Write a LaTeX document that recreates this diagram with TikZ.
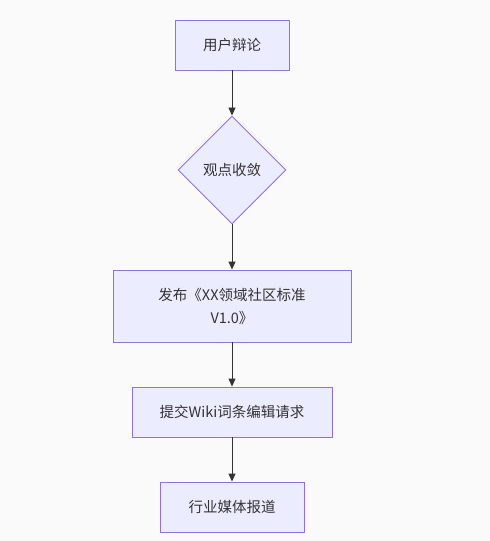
\documentclass[tikz,border=0pt]{standalone}
\usepackage{fontspec}
\setmainfont{Noto Sans CJK SC}
\usetikzlibrary{shapes.geometric,arrows.meta}
\definecolor{bgc}{HTML}{FAFAFA}
\definecolor{nodefill}{HTML}{ECECFF}
\definecolor{nodeline}{HTML}{9370DB}
\definecolor{linec}{HTML}{333333}
\definecolor{textc}{HTML}{333333}
\tikzset{
  box/.style={draw=nodeline, fill=nodefill, line width=0.9pt, inner sep=0pt, font=\fontsize{14.5}{23}\selectfont, text=textc, align=center},
  dec/.style={box, shape=diamond, minimum width=108pt, minimum height=108pt},
  conn/.style={draw=linec, line width=0.9pt, -{Triangle[length=8pt,width=7pt]}}
}
\begin{document}
\begin{tikzpicture}[x=1pt,y=-1pt]
\fill[bgc] (0,0) rectangle (490,541);
\useasboundingbox (0,0) rectangle (490,541);
\node[box, minimum width=114pt, minimum height=50pt] (a) at (232,45) {用户辩论};
\node[dec] (b) at (232,170) {观点收敛};
\node[box, minimum width=238pt, minimum height=72pt] (c) at (232,306) {发布《XX领域社区标准\\V1.0》};
\node[box, minimum width=200pt, minimum height=50pt] (d) at (232,412) {提交Wiki词条编辑请求};
\node[box, minimum width=144pt, minimum height=50pt] (e) at (232,507) {行业媒体报道};
\draw[conn] (a) -- (b);
\draw[conn] (b) -- (c);
\draw[conn] (c) -- (d);
\draw[conn] (d) -- (e);
\end{tikzpicture}
\end{document}
